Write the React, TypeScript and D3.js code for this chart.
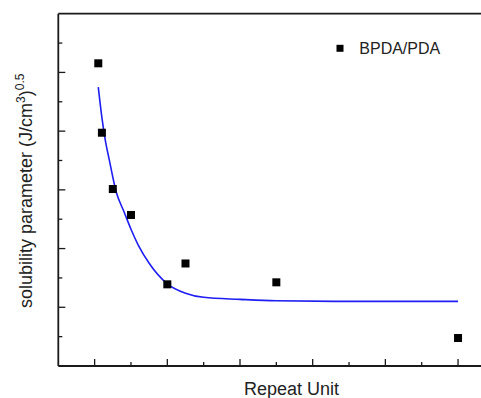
import * as d3 from 'd3';

// measured points, BPDA/PDA
const repeatUnits = [1, 2, 5, 10, 20, 25, 50, 100];
const solubility = [5.155, 3.973, 3.014, 2.572, 1.391, 1.746, 1.425, 0.477];

// fitted decay curve
const fitX = [1, 2, 3, 4, 6, 8, 10, 12, 15, 20, 25, 30, 40, 50, 70, 100];
const fitY = [4.75, 4.23, 3.82, 3.52, 2.95, 2.64, 2.33, 2.06, 1.75, 1.4, 1.24, 1.17, 1.135, 1.11, 1.1, 1.1];

const xMajor = [0, 20, 40, 60, 80, 100];
const xMinor = [10, 30, 50, 70, 90];
const yMajor = [1, 2, 3, 4, 5];
const yMinor = [0.5, 1.5, 2.5, 3.5, 4.5, 5.5];

const seriesName = 'BPDA/PDA';

export default function App() {
  const width = 481;
  const height = 398;
  const left = 58.3;
  const top = 13.7;
  const bottom = 366;

  const x = d3.scaleLinear().domain([-10, 110]).range([left, left + 120 * 3.634]);
  const y = d3.scaleLinear().domain([0, 6]).range([bottom, top]);

  const line = d3
    .line<number>()
    .x((_, i) => x(fitX[i]))
    .y((d) => y(d))
    .curve(d3.curveMonotoneX);

  const axisColor = '#1a1a1a';
  const font = 'Liberation Sans, Arial, sans-serif';
  const sq = 8;

  return (
    <svg
      width={width}
      height={height}
      style={{ position: 'absolute', left: 0, top: 0, background: '#fff' }}
      fontFamily={font}
    >
      {/* frame: left, bottom, top (right side falls outside the crop) */}
      <g stroke={axisColor} strokeWidth={1.8} fill="none">
        <line x1={left} x2={left} y1={top} y2={bottom} />
        <line x1={left} x2={width} y1={bottom} y2={bottom} />
        <line x1={left} x2={width} y1={top} y2={top} />
      </g>

      <g stroke={axisColor} strokeWidth={1.3}>
        {xMajor.map((v) => (
          <line key={'xM' + v} x1={x(v)} x2={x(v)} y1={bottom} y2={bottom - 7} />
        ))}
        {xMinor.map((v) => (
          <line key={'xm' + v} x1={x(v)} x2={x(v)} y1={bottom} y2={bottom - 4} />
        ))}
        {yMajor.map((v) => (
          <line key={'yM' + v} x1={left} x2={left + 7} y1={y(v)} y2={y(v)} />
        ))}
        {yMinor.map((v) => (
          <line key={'ym' + v} x1={left} x2={left + 4} y1={y(v)} y2={y(v)} />
        ))}
      </g>

      <path d={line(fitY) ?? ''} fill="none" stroke="#1e1ef2" strokeWidth={1.6} />

      {repeatUnits.map((r, i) => (
        <rect
          key={r}
          x={x(r) - sq / 2}
          y={y(solubility[i]) - sq / 2}
          width={sq}
          height={sq}
          fill="#000"
        />
      ))}

      {/* legend */}
      <rect x={340 - 3.5} y={48.3 - 3.5} width={7} height={7} fill="#000" />
      <text x={359.3} y={54} fontSize={16} fill="#222">
        {seriesName}
      </text>

      <text x={244} y={395} fontSize={18} fill="#222">
        Repeat Unit
      </text>

      <text transform="translate(31.7,308) rotate(-90)" fontSize={18} fill="#222">
        solubility parameter (J/cm
        <tspan fontSize={12} dy={-7}>3</tspan>
        <tspan dy={7}>)</tspan>
        <tspan fontSize={12} dy={-8}>0.5</tspan>
      </text>
    </svg>
  );
}
